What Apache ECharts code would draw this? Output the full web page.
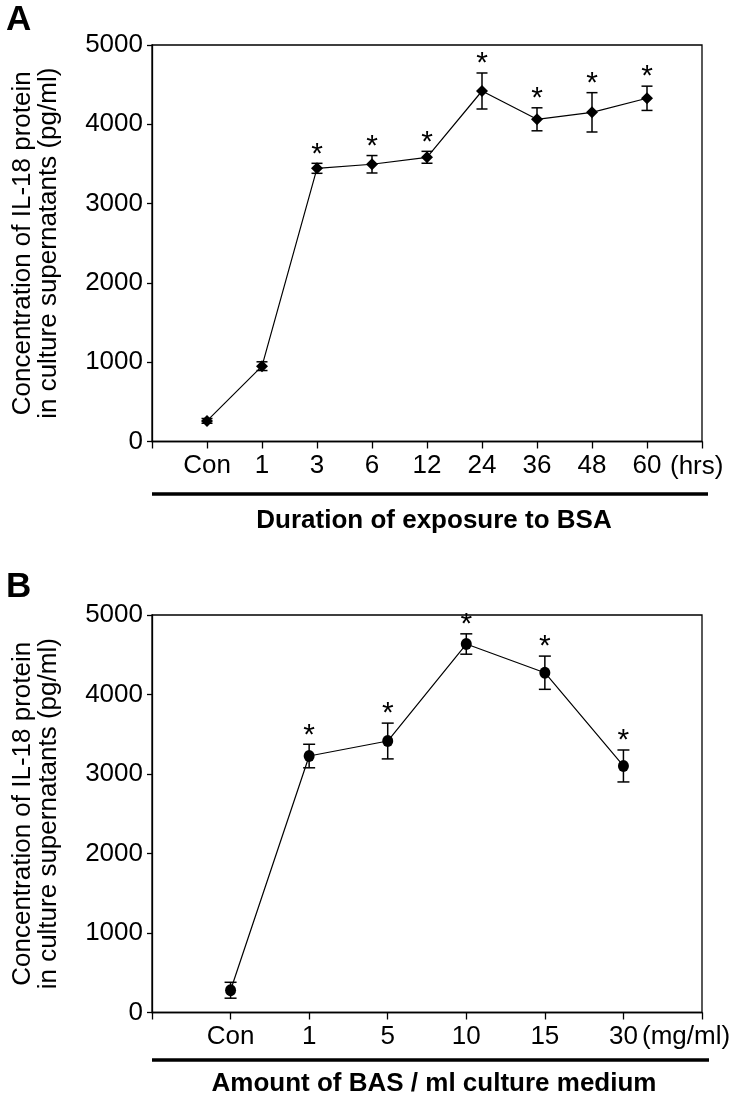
<!DOCTYPE html>
<html>
<head>
<meta charset="utf-8">
<script src="https://cdn.jsdelivr.net/npm/echarts@6/dist/echarts.min.js"></script>
<style>
html,body{margin:0;padding:0;background:#fff;}
#chart{width:742px;height:1101px;}
</style>
</head>
<body>
<div id="chart"></div>
<script>
// ---- Data ----
const catsA = ['Con', '1', '3', '6', '12', '24', '36', '48', '60'];
const valsA = [260, 950, 3445, 3496, 3584, 4420, 4063, 4151, 4328];
const errA  = [30, 55, 63, 110, 75, 227, 145, 248, 153];
const sigA  = [0, 0, 1, 1, 1, 1, 1, 1, 1];

const catsB = ['Con', '1', '5', '10', '15', '30'];
const valsB = [280, 3226, 3415, 4635, 4274, 3101];
const errB  = [100, 148, 225, 128, 209, 201];
const sigB  = [0, 1, 1, 1, 1, 1];

const yTicks = [0, 1000, 2000, 3000, 4000, 5000];
const yName = 'Concentration of IL-18 protein\nin culture supernatants (pg/ml)';
const xNameA = 'Duration of exposure to BSA';
const xNameB = 'Amount of BAS / ml culture medium';
const unitA = '(hrs)';
const unitB = '(mg/ml)';

// ---- Helpers ----
const FONT = "'Liberation Sans', Arial, Helvetica, sans-serif";

function lineData(vals) { return vals.map((v, i) => [i + 1, v]); }
function errData(vals, errs, sig) { return vals.map((v, i) => [i + 1, v, errs[i], sig[i]]); }

function makeErrRender(capHalf) {
  return function (params, api) {
    const x = api.value(0), y = api.value(1), e = api.value(2), s = api.value(3);
    const top = api.coord([x, y + e]);
    const bot = api.coord([x, y - e]);
    const style = { stroke: '#000', lineWidth: 1.5 };
    const children = [
      { type: 'line', shape: { x1: top[0], y1: top[1], x2: bot[0], y2: bot[1] }, style: style },
      { type: 'line', shape: { x1: top[0] - capHalf, y1: top[1], x2: top[0] + capHalf, y2: top[1] }, style: style },
      { type: 'line', shape: { x1: bot[0] - capHalf, y1: bot[1], x2: bot[0] + capHalf, y2: bot[1] }, style: style }
    ];
    if (s) {
      children.push({
        type: 'text',
        style: {
          text: '*', x: top[0], y: top[1] - 9,
          font: "30px " + FONT, fill: '#000',
          align: 'center', verticalAlign: 'middle'
        }
      });
    }
    return { type: 'group', children: children };
  };
}

function xAxisCfg(gridIndex, cats, maxV, name, nameGap) {
  return {
    gridIndex: gridIndex, type: 'value', min: 0, max: maxV, interval: 1,
    axisLine: { show: true, onZero: false, lineStyle: { color: '#000', width: 1.3 } },
    axisTick: { show: true, length: 7, lineStyle: { color: '#000', width: 1.3 } },
    splitLine: { show: false },
    axisLabel: {
      color: '#000', fontSize: 26, fontFamily: FONT, margin: 11,
      showMinLabel: true, showMaxLabel: true,
      formatter: function (v) { return (v >= 1 && v <= cats.length) ? cats[v - 1] : ''; }
    },
    name: name, nameLocation: 'middle', nameGap: nameGap,
    nameTextStyle: { color: '#000', fontSize: 26, fontWeight: 'bold', fontFamily: FONT, padding: [0, 0, 0, 14] }
  };
}

function yAxisCfg(gridIndex) {
  return {
    gridIndex: gridIndex, type: 'value', min: yTicks[0], max: yTicks[yTicks.length - 1], interval: 1000,
    axisLine: { show: true, lineStyle: { color: '#000', width: 1.3 } },
    axisTick: { show: true, length: 5, lineStyle: { color: '#000', width: 1.3 } },
    splitLine: { show: false },
    axisLabel: { color: '#000', fontSize: 26, fontFamily: FONT, margin: 9, formatter: function (v) { return String(v); } },
    name: yName, nameLocation: 'middle', nameGap: 90,
    nameTextStyle: { color: '#000', fontSize: 26, lineHeight: 26, fontFamily: FONT }
  };
}

const chart = echarts.init(document.getElementById('chart'), null, { renderer: 'canvas' });

const option = {
  backgroundColor: '#fff',
  animation: false,
  grid: [
    { left: 152, top: 45, width: 550, height: 396.5, show: true, borderColor: '#000', borderWidth: 1.3, backgroundColor: 'transparent' },
    { left: 152, top: 615, width: 550, height: 397.5, show: true, borderColor: '#000', borderWidth: 1.3, backgroundColor: 'transparent' }
  ],
  xAxis: [
    xAxisCfg(0, catsA, catsA.length + 1, xNameA, 66),
    xAxisCfg(1, catsB, catsB.length + 1, xNameB, 58)
  ],
  yAxis: [yAxisCfg(0), yAxisCfg(1)],
  series: [
    {
      type: 'line', xAxisIndex: 0, yAxisIndex: 0, data: lineData(valsA),
      symbol: 'diamond', symbolSize: [12, 12], z: 3,
      itemStyle: { color: '#000' }, lineStyle: { color: '#000', width: 1.2 }
    },
    {
      type: 'custom', xAxisIndex: 0, yAxisIndex: 0, data: errData(valsA, errA, sigA),
      renderItem: makeErrRender(5.5), z: 2
    },
    {
      type: 'line', xAxisIndex: 1, yAxisIndex: 1, data: lineData(valsB),
      symbol: 'circle', symbolSize: [11, 12], z: 3,
      itemStyle: { color: '#000' }, lineStyle: { color: '#000', width: 1.2 }
    },
    {
      type: 'custom', xAxisIndex: 1, yAxisIndex: 1, data: errData(valsB, errB, sigB),
      renderItem: makeErrRender(6), z: 2
    }
  ],
  graphic: [
    { type: 'text', left: 6, top: 3, style: { text: 'A', font: "bold 35px " + FONT, fill: '#000' } },
    { type: 'text', left: 6, top: 570, style: { text: 'B', font: "bold 35px " + FONT, fill: '#000' } },
    { type: 'text', x: 670, y: 467, style: { text: unitA, font: "26px " + FONT, fill: '#000', verticalAlign: 'middle' } },
    { type: 'text', x: 642, y: 1037, style: { text: unitB, font: "26px " + FONT, fill: '#000', verticalAlign: 'middle' } },
    { type: 'line', shape: { x1: 152, y1: 494, x2: 708, y2: 494 }, style: { stroke: '#000', lineWidth: 3.5 } },
    { type: 'line', shape: { x1: 152, y1: 1060, x2: 709, y2: 1060 }, style: { stroke: '#000', lineWidth: 3.5 } }
  ]
};
chart.setOption(option);
</script>
</body>
</html>
